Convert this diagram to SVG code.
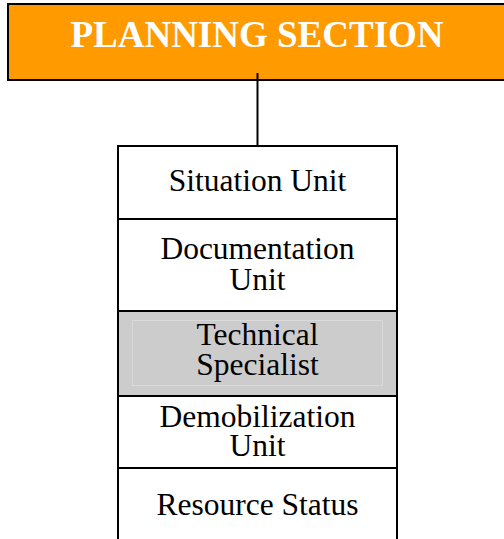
<svg xmlns="http://www.w3.org/2000/svg" width="504" height="539" viewBox="0 0 504 539">
<style>
.box{stroke:#000;stroke-width:2;}
.t{font-family:"Liberation Serif","Times New Roman",serif;font-size:31.5px;fill:#000;text-anchor:middle;}
.title{font-family:"Liberation Serif","Times New Roman",serif;font-size:37px;font-weight:bold;fill:#fff;text-anchor:middle;}
</style>
<rect width="504" height="539" fill="#fff"/>
<g id="planning-section">
<rect class="box" x="8" y="4" width="500" height="76" fill="#FF9A00"/>
<text class="title" x="257" y="47">PLANNING SECTION</text>
</g>
<g id="connectors">
<line x1="257.5" y1="73" x2="257.5" y2="151" stroke="#000" stroke-width="2"/>
</g>
<g id="situation-unit">
<rect class="box" x="118" y="146" width="279" height="73" fill="#fff"/>
<text class="t" x="257.5" y="191">Situation Unit</text>
</g>
<g id="documentation-unit">
<rect class="box" x="118" y="219" width="279" height="92" fill="#fff"/>
<text class="t" x="257.5" y="259">Documentation</text>
<text class="t" x="257.5" y="290">Unit</text>
</g>
<g id="technical-specialist">
<rect class="box" x="118" y="311" width="279" height="85" fill="#CCCCCC"/>
<rect x="132.5" y="320.5" width="250" height="65" fill="none" stroke="#dadada" stroke-width="1"/>
<text class="t" x="257.5" y="345">Technical</text>
<text class="t" x="257.5" y="375">Specialist</text>
</g>
<g id="demobilization-unit">
<rect class="box" x="118" y="396" width="279" height="72" fill="#fff"/>
<text class="t" x="257.5" y="427">Demobilization</text>
<text class="t" x="257.5" y="456">Unit</text>
</g>
<g id="resource-status">
<rect class="box" x="118" y="468" width="279" height="80" fill="#fff"/>
<text class="t" x="257.5" y="515">Resource Status</text>
</g>
</svg>
